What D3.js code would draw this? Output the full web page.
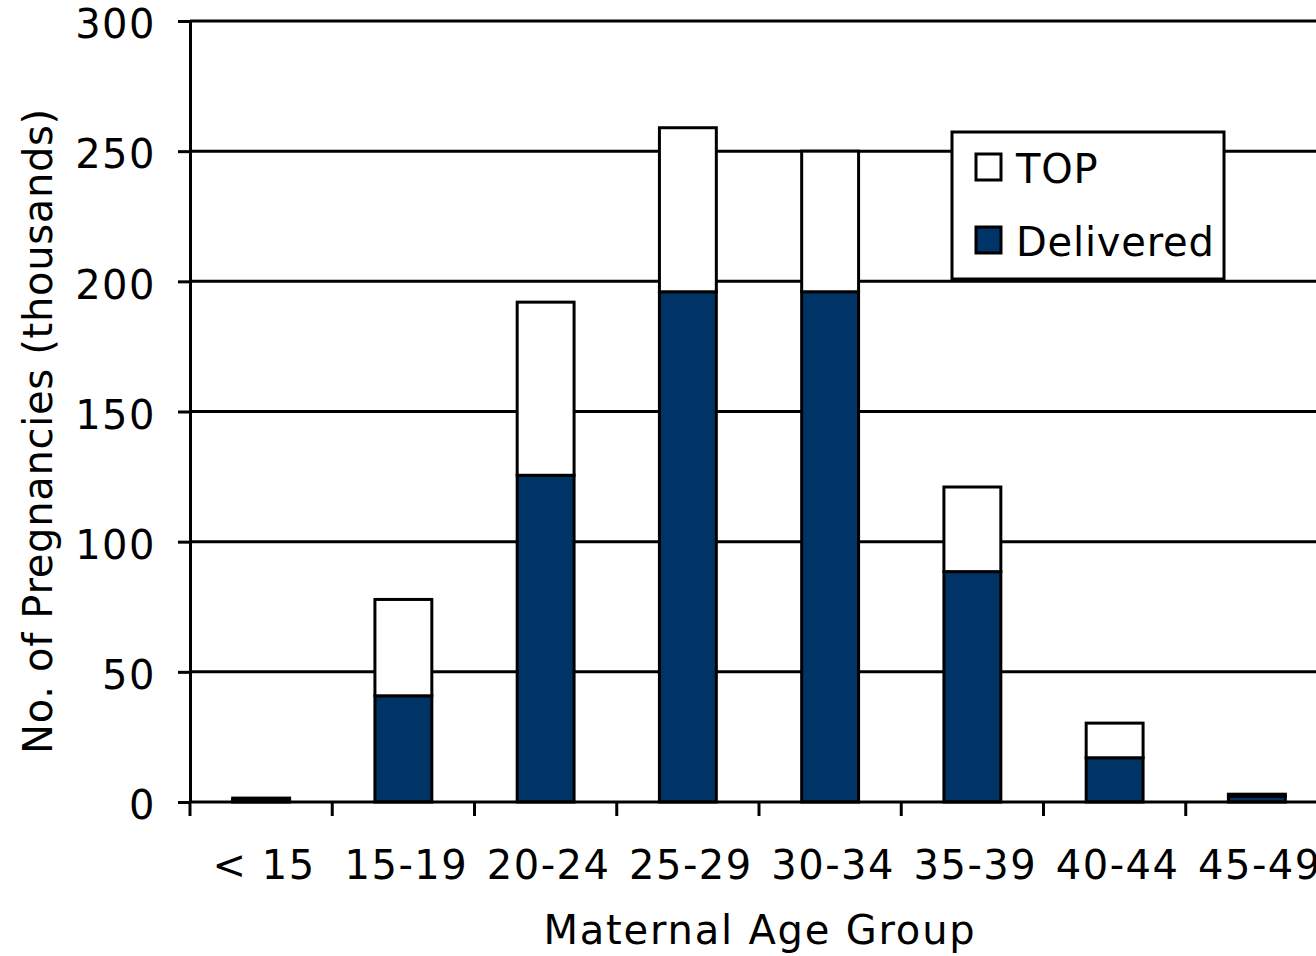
<!DOCTYPE html>
<html>
<head>
<meta charset="utf-8">
<script src="https://cdn.jsdelivr.net/npm/d3@7"></script>
<style>
  html, body { margin: 0; padding: 0; background: #fff; }
  svg { display: block; }
  text { font-family: "DejaVu Sans", Verdana, sans-serif; fill: #000; }
</style>
</head>
<body>
<svg id="chart" width="1316" height="956"></svg>
<script>
// Pregnancies by maternal age group (thousands)
const ageGroups = ["< 15", "15-19", "20-24", "25-29", "30-34", "35-39", "40-44", "45-49"];
const delivered = [0.8, 40.8, 125.5, 196, 196, 88.5, 17, 2.2];
const top_ = [0.7, 37, 66.5, 63, 54, 32.5, 13.3, 0.8];
const yTicks = [0, 50, 100, 150, 200, 250, 300];
const seriesNames = ["TOP", "Delivered"];
const seriesColors = { "Delivered": "#003366", "TOP": "#ffffff" };

const svg = d3.select("#chart");
const left = 190, right = 1328, topY = 21, bottom = 802;

const x = d3.scaleBand().domain(ageGroups).range([left, right]).paddingInner(0.6).paddingOuter(0.3);
const y = d3.scaleLinear().domain([0, 300]).range([bottom, topY]);

const fontSize = 40;
const spacing = 1.5;

// horizontal gridlines
svg.append("g").selectAll("line").data(yTicks.filter(d => d > 0)).join("line")
  .attr("x1", left).attr("x2", 1316)
  .attr("y1", d => y(d)).attr("y2", d => y(d))
  .attr("stroke", "#000").attr("stroke-width", 3);

// stacked bars
const rows = ageGroups.map((g, i) => ({ group: g, Delivered: delivered[i], TOP: top_[i] }));
const stack = d3.stack().keys(["Delivered", "TOP"])(rows);
svg.append("g").selectAll("g").data(stack).join("g")
  .attr("fill", d => seriesColors[d.key])
  .selectAll("rect").data(d => d).join("rect")
  .attr("x", d => x(d.data.group))
  .attr("width", x.bandwidth())
  .attr("y", d => y(d[1]))
  .attr("height", d => y(d[0]) - y(d[1]))
  .attr("stroke", "#000").attr("stroke-width", 3);

// y axis
const yAxis = svg.append("g").attr("transform", `translate(${left},0)`)
  .call(d3.axisLeft(y).tickValues(yTicks).tickSize(12).tickPadding(22).tickSizeOuter(0));
yAxis.select(".domain").attr("stroke", "#000").attr("stroke-width", 3);
yAxis.selectAll(".tick line").attr("stroke", "#000").attr("stroke-width", 3);
yAxis.selectAll(".tick text").attr("font-size", fontSize).attr("font-family", "DejaVu Sans")
  .attr("letter-spacing", spacing).attr("dy", "0.42em");

// x axis: baseline with tick marks at band boundaries
svg.append("line").attr("x1", left).attr("x2", 1316).attr("y1", bottom).attr("y2", bottom)
  .attr("stroke", "#000").attr("stroke-width", 3);
const step = x.step();
const boundaries = d3.range(ageGroups.length).map(i => left + i * step);
svg.append("g").selectAll("line").data(boundaries).join("line")
  .attr("x1", d => d).attr("x2", d => d)
  .attr("y1", bottom).attr("y2", bottom + 14)
  .attr("stroke", "#000").attr("stroke-width", 3);

svg.append("g").selectAll("text").data(ageGroups).join("text")
  .attr("x", d => x(d) + x.bandwidth() / 2 + 3)
  .attr("y", 879)
  .attr("text-anchor", "middle")
  .attr("font-size", fontSize)
  .attr("letter-spacing", spacing)
  .text(d => d);

// axis titles
svg.append("text")
  .attr("x", 760).attr("y", 944)
  .attr("text-anchor", "middle").attr("font-size", fontSize)
  .attr("letter-spacing", 1.8)
  .text("Maternal Age Group");

svg.append("text")
  .attr("transform", "translate(52,431) rotate(-90)")
  .attr("text-anchor", "middle").attr("font-size", fontSize)
  .attr("letter-spacing", 0.7)
  .text("No. of Pregnancies (thousands)");

// legend
const lg = svg.append("g");
lg.append("rect").attr("x", 952).attr("y", 132).attr("width", 272).attr("height", 147)
  .attr("fill", "#fff").attr("stroke", "#000").attr("stroke-width", 3);
seriesNames.forEach((name, i) => {
  const yy = 154 + i * 73;
  lg.append("rect").attr("x", 976).attr("y", yy).attr("width", 25).attr("height", 26)
    .attr("fill", seriesColors[name]).attr("stroke", "#000").attr("stroke-width", 3);
  lg.append("text").attr("x", 1016).attr("y", yy + 29)
    .attr("font-size", fontSize).attr("letter-spacing", 0.8).text(name);
});
</script>
</body>
</html>
